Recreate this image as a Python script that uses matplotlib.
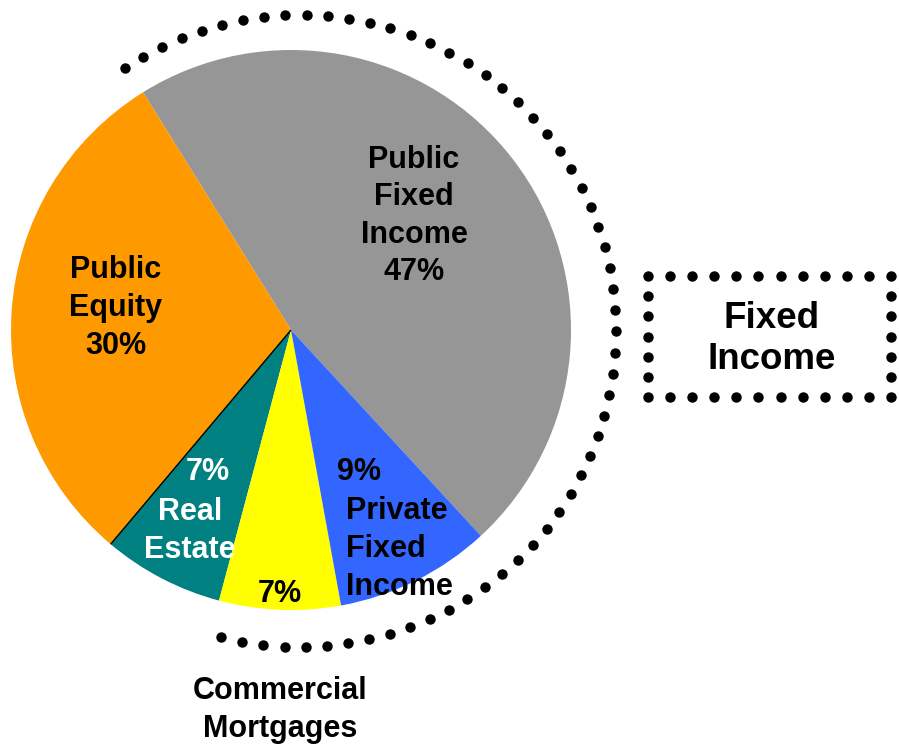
import matplotlib.pyplot as plt
import numpy as np

plt.rcParams['font.family'] = ['Liberation Sans', 'DejaVu Sans']

# Portfolio allocation (%)
segments = ['Public Fixed Income', 'Public Equity', 'Real Estate',
            'Commercial Mortgages', 'Private Fixed Income']
shares = [47, 30, 7, 7, 9]
colors = ['#969696', '#FF9900', '#008080', '#FFFF00', '#3366FF']

W, H = 899, 747
fig = plt.figure(figsize=(W / 100, H / 100), dpi=100)
ax = fig.add_axes([0, 0, 1, 1])


def px(x, y):
    # pixel position (from the top-left) -> data coords
    return x, H - y


# pie
cx, cy = px(291, 330)
wedges, _ = ax.pie(shares, colors=colors, startangle=-47.3, counterclock=True,
                   center=(cx, cy), radius=280, frame=True,
                   wedgeprops=dict(linewidth=0))
ax.set_xlim(0, W)
ax.set_ylim(0, H)
ax.set_aspect('equal')
ax.axis('off')

# thin dark edge between equity and real estate
t = np.deg2rad(wedges[2].theta1)
ax.plot([cx, cx + 280 * np.cos(t)], [cy, cy + 280 * np.sin(t)],
        color='black', lw=1.0, solid_capstyle='butt')

# dotted arc around the fixed income part
ox, oy = px(300, 331)
ang = np.deg2rad(np.linspace(123.6, -104.4, 60))
ax.plot(ox + 316 * np.cos(ang), oy + 316 * np.sin(ang), 'o', color='black',
        markersize=7.5, markeredgewidth=0)

# dotted box
x0, x1 = 648, 891
y0, y1 = 276, 397
box_x, box_y = [], []
for xa, ya, xb, yb in [(x0, y0, x1, y0), (x1, y0, x1, y1),
                       (x1, y1, x0, y1), (x0, y1, x0, y0)]:
    n = int(round(np.hypot(xb - xa, yb - ya) / 21.5))
    s = np.linspace(0, 1, n, endpoint=False)
    box_x.extend(xa + (xb - xa) * s)
    box_y.extend(ya + (yb - ya) * s)
bx, by = px(np.array(box_x), np.array(box_y))
ax.plot(bx, by, 'o', color='black', markersize=7.5, markeredgewidth=0)

bold = dict(fontweight='bold', fontsize=22, linespacing=1.33)
ax.text(*px(414, 216), 'Public\nFixed\nIncome\n47%', ha='center', va='center',
        color='black', **bold)
ax.text(*px(116, 308), 'Public\nEquity\n30%', ha='center', va='center',
        color='black', **bold)
ax.text(*px(208, 472), '7%', ha='center', va='center', color='white', **bold)
ax.text(*px(190, 531), 'Real\nEstate', ha='center', va='center',
        color='white', **bold)
ax.text(*px(359, 472), '9%', ha='center', va='center', color='black', **bold)
ax.text(*px(346, 549), 'Private\nFixed\nIncome', ha='left', va='center',
        color='black', **bold)
ax.text(*px(280, 594), '7%', ha='center', va='center', color='black', **bold)
ax.text(*px(280, 710), 'Commercial\nMortgages', ha='center', va='center',
        color='black', **bold)
ax.text(*px(772, 339), 'Fixed\nIncome', ha='center', va='center',
        color='black', fontweight='bold', fontsize=26.5, linespacing=1.25)

fig.savefig('out.png', dpi=100)
